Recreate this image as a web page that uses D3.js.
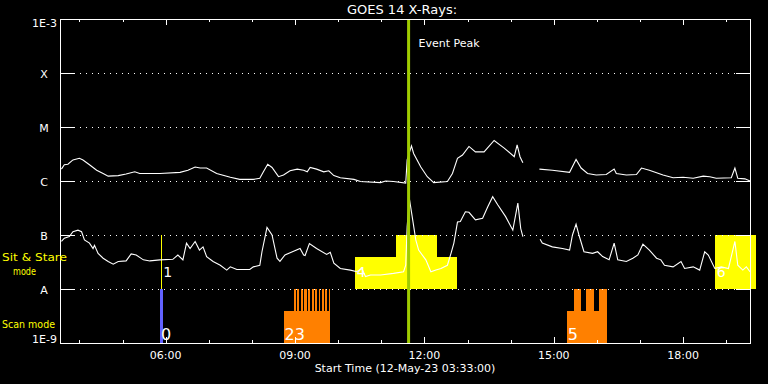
<!DOCTYPE html>
<html><head><meta charset="utf-8">
<script src="https://cdn.jsdelivr.net/npm/d3@7"></script>
<style>
html,body{margin:0;padding:0;background:#000;}
svg{display:block;}
text{font-family:"DejaVu Sans",sans-serif;}
</style>
</head><body>
<svg id="chart" width="768" height="384"></svg>
<script>
// ---------------- data ----------------
const chartTitle = "GOES 14 X-Rays:";
const xAxisTitle = "Start Time (12-May-23 03:33:00)";
const startTime = Date.UTC(2023, 4, 12, 3, 33, 0);
const spanMinutes = 960;
const eventPeakMinute = 485;
const eventPeakLabel = "Event Peak";

const yTickValues = [1e-9, 1e-8, 1e-7, 1e-6, 1e-5, 1e-4, 1e-3];
const yTickLabels = ["1E-9", "A", "B", "C", "M", "X", "1E-3"];
const modeLabels = [["Sit & Stare", "mode"], ["Scan mode"]];

// long channel (1-8 Å), minutes after start / log10 flux (null = data gap)
const longMinutes = [2,6,11,18,27,32,41,51,60,67,81,92,104,111,139,167,178,188,195,204,218,237,250,269,278,283,289,295,304,311,320,330,339,344,348,357,367,374,381,390,409,418,446,453,464,481,483,489,492,502,511,520,539,546,553,560,569,578,590,604,618,632,636,640,644,null,667,685,709,718,725,734,746,760,771,774,788,802,809,820,839,853,867,881,895,904,913,934,939,943,953,960];
const longLogFlux = [-5.78,-5.70,-5.69,-5.61,-5.58,-5.61,-5.70,-5.80,-5.86,-5.91,-5.90,-5.87,-5.83,-5.86,-5.86,-5.84,-5.80,-5.74,-5.76,-5.76,-5.86,-5.93,-5.97,-5.97,-5.95,-5.83,-5.69,-5.75,-5.92,-5.89,-5.81,-5.78,-5.80,-5.83,-5.75,-5.78,-5.83,-5.81,-5.90,-5.94,-5.97,-6.01,-6.03,-6.00,-6.01,-6.04,-5.61,-5.35,-5.49,-5.74,-5.92,-6.03,-6.01,-5.86,-5.58,-5.52,-5.36,-5.46,-5.46,-5.25,-5.39,-5.55,-5.33,-5.55,-5.66,null,-5.78,-5.80,-5.84,-5.60,-5.76,-5.86,-5.89,-5.88,-5.78,-5.86,-5.89,-5.88,-5.76,-5.80,-5.89,-5.94,-5.93,-5.95,-5.91,-5.92,-5.95,-5.94,-5.76,-5.95,-5.96,-6.00];

// short channel (0.5-4 Å)
const shortMinutes = [2,6,13,18,25,30,34,41,46,48,53,60,67,74,81,92,99,106,116,125,139,157,164,171,176,181,188,194,199,204,213,223,232,237,246,264,269,278,281,288,295,302,306,313,325,334,339,341,347,357,371,376,381,390,404,413,420,425,432,446,464,478,481,483,486,490,495,499,509,516,523,530,539,544,548,553,557,564,569,578,588,595,602,609,620,630,637,641,644,null,668,671,685,699,709,713,718,722,729,741,748,755,764,771,776,788,797,804,811,820,830,836,841,853,864,869,881,890,897,902,911,920,930,939,943,950,955,960];
const shortLogFlux = [-7.12,-7.06,-7.03,-6.94,-6.91,-6.94,-7.09,-7.15,-7.25,-7.19,-7.34,-7.43,-7.49,-7.54,-7.49,-7.48,-7.35,-7.37,-7.46,-7.48,-7.46,-7.45,-7.37,-7.46,-7.15,-7.25,-7.12,-7.28,-7.22,-7.40,-7.49,-7.56,-7.65,-7.59,-7.64,-7.64,-7.59,-7.56,-7.31,-6.86,-7.00,-7.43,-7.49,-7.37,-7.30,-7.25,-7.37,-7.38,-7.16,-7.25,-7.36,-7.32,-7.52,-7.62,-7.65,-7.68,-7.62,-7.77,-7.74,-7.74,-7.71,-7.68,-7.56,-6.85,-6.32,-6.66,-7.09,-7.28,-7.46,-7.68,-7.65,-7.62,-7.56,-7.34,-7.15,-6.76,-6.75,-6.57,-6.58,-6.72,-6.69,-6.48,-6.29,-6.44,-6.66,-6.91,-6.41,-6.88,-7.03,null,-7.08,-7.15,-7.22,-7.25,-7.28,-7.00,-6.80,-7.00,-7.31,-7.34,-7.31,-7.40,-7.46,-7.15,-7.46,-7.49,-7.43,-7.37,-7.17,-7.28,-7.43,-7.46,-7.56,-7.59,-7.49,-7.62,-7.59,-7.65,-7.31,-7.37,-7.62,-7.59,-7.62,-7.12,-7.56,-7.65,-7.59,-7.68];

// Sit & Stare mode observations: start, end (minutes), relative height
const sitStart = [410, 467, 911];
const sitEnd   = [552, 524, 968];
const sitLevel = [0.6, 1, 1];
// Scan mode observations
const scanStart = [311, 325,330,335,340,345,350,355,360,364,369,374, 705, 715,732,750];
const scanEnd   = [375, 328,333,338,343,348,353,358,362,367,372,375, 761, 725,743,761];
const scanLevel = [0.6, 1,1,1,1,1,1,1,1,1,1,1, 0.6, 1,1,1];
// single-event markers (minute)
const sitMarkerMinute = 141;
const scanMarkerStart = 139, scanMarkerEnd = 143;
// count labels
const sitCountMinute = [141, 410, 911];
const sitCountText = ["1", "4", "6"];
const scanCountMinute = [139, 311, 705];
const scanCountText = ["0", "23", "5"];

// ---------------- drawing ----------------
const svg = d3.select("#chart");
svg.append("rect").attr("width", 768).attr("height", 384).attr("fill", "#000");

const X0 = 60, X1 = 750, Y0 = 343, Y1 = 19;
const toDate = m => new Date(startTime + m * 60000);
const x = d3.scaleUtc().domain([toDate(0), toDate(spanMinutes)]).range([X0, X1]);
const y = d3.scaleLog().domain([1e-9, 1e-3]).range([Y0, Y1]);
const ySit = d3.scaleLinear().domain([0, 1]).range([y(1e-8), y(1e-7)]);
const yScan = d3.scaleLinear().domain([0, 1]).range([y(1e-9), y(1e-8)]);

// mode blocks
const gBlocks = svg.append("g").attr("shape-rendering", "crispEdges");
gBlocks.selectAll("rect.sit").data(d3.range(sitStart.length)).join("rect")
  .attr("x", i => x(toDate(sitStart[i])))
  .attr("width", i => x(toDate(sitEnd[i])) - x(toDate(sitStart[i])))
  .attr("y", i => ySit(sitLevel[i]))
  .attr("height", i => ySit(0) - ySit(sitLevel[i]))
  .attr("fill", "#ffff00");
gBlocks.selectAll("rect.scan").data(d3.range(scanStart.length)).join("rect")
  .attr("x", i => x(toDate(scanStart[i])))
  .attr("width", i => x(toDate(scanEnd[i])) - x(toDate(scanStart[i])))
  .attr("y", i => yScan(scanLevel[i]))
  .attr("height", i => yScan(0) - yScan(scanLevel[i]))
  .attr("fill", "#ff8000");
gBlocks.append("rect")
  .attr("x", x(toDate(scanMarkerStart)))
  .attr("width", x(toDate(scanMarkerEnd)) - x(toDate(scanMarkerStart)))
  .attr("y", yScan(1)).attr("height", yScan(0) - yScan(1))
  .attr("fill", "#6262ff");
gBlocks.append("line")
  .attr("x1", Math.round(x(toDate(sitMarkerMinute))) + 0.5)
  .attr("x2", Math.round(x(toDate(sitMarkerMinute))) + 0.5)
  .attr("y1", ySit(1)).attr("y2", ySit(0))
  .attr("stroke", "#ffff00").attr("stroke-width", 1);

// grid lines (dotted with solid ticks at ends)
const gGrid = svg.append("g").attr("shape-rendering", "crispEdges");
const inner = yTickValues.slice(1, -1);
inner.forEach(v => {
  const yy = Math.round(y(v)) + 0.5;
  gGrid.append("line").attr("x1", X0 + 14).attr("x2", X1 - 14).attr("y1", yy).attr("y2", yy)
    .attr("stroke", "#fff").attr("stroke-dasharray", "1,5");
  gGrid.append("line").attr("x1", X0).attr("x2", X0 + 14).attr("y1", yy).attr("y2", yy).attr("stroke", "#fff");
  gGrid.append("line").attr("x1", X1 - 14).attr("x2", X1).attr("y1", yy).attr("y2", yy).attr("stroke", "#fff");
});

// curves
const line = d3.line()
  .defined(d => d[1] !== null)
  .x(d => x(toDate(d[0])))
  .y(d => y(Math.pow(10, d[1])));
const longData = longMinutes.map((m, i) => [m, longLogFlux[i]]);
const shortData = shortMinutes.map((m, i) => [m, shortLogFlux[i]]);
[longData, shortData].forEach(data => {
  svg.append("path").datum(data).attr("d", line)
    .attr("fill", "none").attr("stroke", "#fff").attr("stroke-width", 1.1)
    .attr("stroke-linejoin", "miter");
});

// count labels
svg.selectAll("text.sitc").data(d3.range(sitCountText.length)).join("text")
  .attr("x", i => x(toDate(sitCountMinute[i])) + 2).attr("y", 277)
  .attr("fill", "#fff").attr("font-size", 14).text(i => sitCountText[i]);
svg.selectAll("text.scanc").data(d3.range(scanCountText.length)).join("text")
  .attr("x", i => x(toDate(scanCountMinute[i])) + 1).attr("y", 340)
  .attr("fill", "#fff").attr("font-size", 16).text(i => scanCountText[i]);

// event peak
const xp = x(toDate(eventPeakMinute));
svg.append("line").attr("x1", xp).attr("x2", xp).attr("y1", Y1).attr("y2", Y0)
  .attr("stroke", "#9fcc00").attr("stroke-width", 3);
svg.append("text").attr("x", xp + 10).attr("y", 47).attr("fill", "#fff")
  .attr("font-size", 11).text(eventPeakLabel);

// frame and x ticks
const gAx = svg.append("g").attr("shape-rendering", "crispEdges").attr("stroke", "#fff");
gAx.append("rect").attr("x", X0 + 0.5).attr("y", Y1 + 0.5).attr("width", X1 - X0).attr("height", Y0 - Y1)
  .attr("fill", "none");
const hourTicks = x.ticks(d3.utcHour.every(1));
hourTicks.forEach(t => {
  const major = t.getUTCHours() % 3 === 0;
  const len = major ? 6 : 3;
  const xx = Math.round(x(t)) + 0.5;
  gAx.append("line").attr("x1", xx).attr("x2", xx).attr("y1", Y1).attr("y2", Y1 + len);
  gAx.append("line").attr("x1", xx).attr("x2", xx).attr("y1", Y0 + 0.5).attr("y2", Y0 - len);
});
const fmt = d3.utcFormat("%H:%M");
svg.selectAll("text.xl").data(x.ticks(d3.utcHour.every(3))).join("text")
  .attr("x", d => x(d)).attr("y", 359).attr("text-anchor", "middle")
  .attr("fill", "#fff").attr("font-size", 11).text(d => fmt(d));
svg.append("text").attr("x", (X0 + X1) / 2).attr("y", 372).attr("text-anchor", "middle")
  .attr("fill", "#fff").attr("font-size", 11).text(xAxisTitle);
svg.append("text").attr("x", (X0 + X1) / 2 - 3).attr("y", 14).attr("text-anchor", "middle")
  .attr("fill", "#fff").attr("font-size", 13).text(chartTitle);

// y labels
yTickValues.forEach((v, i) => {
  const lab = yTickLabels[i];
  const t = svg.append("text").attr("fill", "#fff").attr("font-size", 11).text(lab);
  if (i === 0) t.attr("x", 57).attr("y", y(v)).attr("text-anchor", "end");
  else if (i === yTickValues.length - 1) t.attr("x", 57).attr("y", y(v) + 8).attr("text-anchor", "end");
  else t.attr("x", 44).attr("y", y(v) + 4.5).attr("text-anchor", "middle");
});

// mode labels
svg.append("text").attr("x", 2).attr("y", 261).attr("fill", "#ffff00").attr("font-size", 11)
  .attr("textLength", 65).attr("lengthAdjust", "spacingAndGlyphs").text(modeLabels[0][0]);
svg.append("text").attr("x", 13).attr("y", 275).attr("fill", "#ffff00").attr("font-size", 11)
  .attr("textLength", 23).attr("lengthAdjust", "spacingAndGlyphs").text(modeLabels[0][1]);
svg.append("text").attr("x", 2).attr("y", 328).attr("fill", "#ffff00").attr("font-size", 11)
  .attr("textLength", 53).attr("lengthAdjust", "spacingAndGlyphs").text(modeLabels[1][0]);
</script>
</body></html>
